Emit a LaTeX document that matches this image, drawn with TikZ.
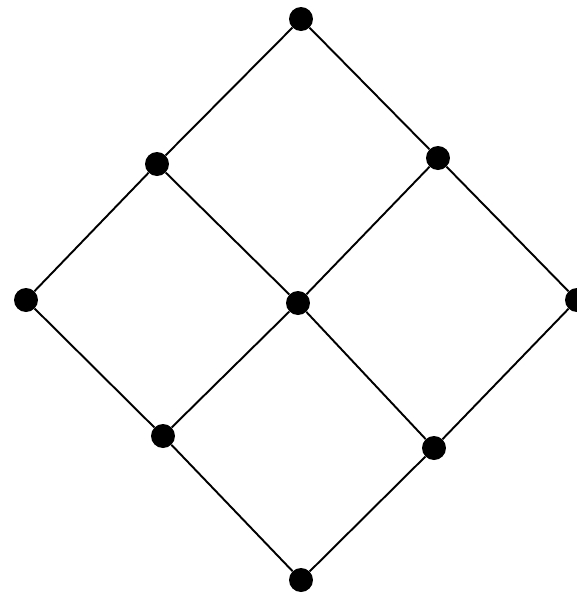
\documentclass[tikz,border=0pt]{standalone}
\begin{document}
\begin{tikzpicture}[x=0.02cm,y=-0.02cm,
  vertex/.style={circle,fill=black,inner sep=0pt,minimum size=0.48cm},
  edge/.style={line width=1.1pt}]
  \useasboundingbox (0,0) rectangle (577,596);
  \node[vertex] (top) at (301,19) {};
  \node[vertex] (ul) at (157,164) {};
  \node[vertex] (ur) at (438,158) {};
  \node[vertex] (l) at (26,300) {};
  \node[vertex] (c) at (298,303) {};
  \node[vertex] (r) at (577,300) {};
  \node[vertex] (ll) at (163,436) {};
  \node[vertex] (lr) at (434,448) {};
  \node[vertex] (bot) at (301,580) {};
  \draw[edge] (top) -- (ul) -- (l) -- (ll) -- (bot) -- (lr) -- (r) -- (ur) -- (top);
  \draw[edge] (ul) -- (c) -- (lr);
  \draw[edge] (ur) -- (c) -- (ll);
\end{tikzpicture}
\end{document}
